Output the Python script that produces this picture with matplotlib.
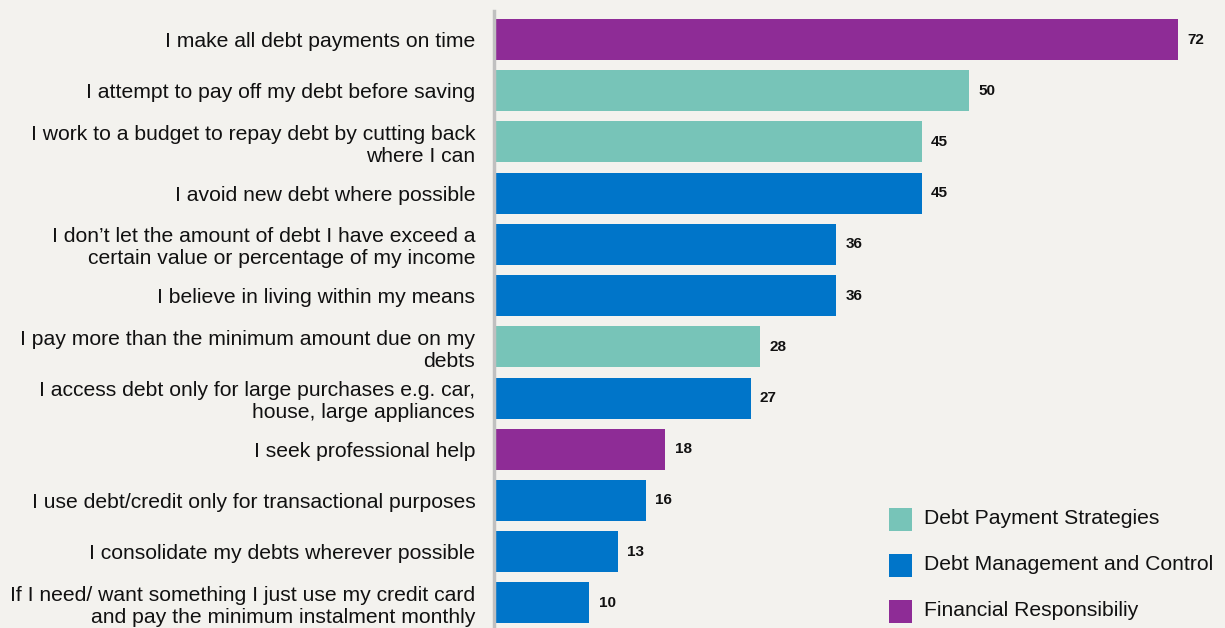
import matplotlib
matplotlib.use("Agg")
import matplotlib.pyplot as plt
from matplotlib.patches import Rectangle

plt.rcParams['font.family'] = ['Liberation Sans', 'DejaVu Sans']

labels = [
    "I make all debt payments on time",
    "I attempt to pay off my debt before saving",
    "I work to a budget to repay debt by cutting back\nwhere I can",
    "I avoid new debt where possible",
    "I don\u2019t let the amount of debt I have exceed a\ncertain value or percentage of my income",
    "I believe in living within my means",
    "I pay more than the minimum amount due on my\ndebts",
    "I access debt only for large purchases e.g. car,\nhouse, large appliances",
    "I seek professional help",
    "I use debt/credit only for transactional purposes",
    "I consolidate my debts wherever possible",
    "If I need/ want something I just use my credit card\nand pay the minimum instalment monthly",
]
values = [72, 50, 45, 45, 36, 36, 28, 27, 18, 16, 13, 10]
groups = ["fin", "pay", "pay", "mgmt", "mgmt", "mgmt", "pay", "mgmt", "fin", "mgmt", "mgmt", "mgmt"]

group_order = ["pay", "mgmt", "fin"]
group_names = {
    "pay": "Debt Payment Strategies",
    "mgmt": "Debt Management and Control",
    "fin": "Financial Responsibiliy",
}
group_colors = {"pay": "#77c4b8", "mgmt": "#0075c9", "fin": "#8e2c96"}
bg = "#f3f2ee"
W, H = 1225, 628

fig = plt.figure(figsize=(W / 100, H / 100), dpi=100, facecolor=bg)
ax = fig.add_axes([494 / W, 0, 1 - 494 / W, 1 - 11 / H])
ax.set_facecolor(bg)

ypos = list(range(len(values)))
ax.barh(ypos, values, height=0.8, color=[group_colors[g] for g in groups])
for y, v in zip(ypos, values):
    ax.text(v + 1.0, y, str(v), va="center", ha="left", fontsize=11,
            fontweight="bold", color="#111111")

ax.set_xlim(0, (W - 494) / 9.5)
ax.set_ylim(11.49, -0.557)
ax.set_xticks([])
ax.set_yticks(ypos)
ax.set_yticklabels(labels, fontsize=15.2, color="#111111", linespacing=1.2)
ax.tick_params(axis="y", length=0, pad=13.5)
for s in ["top", "right", "bottom"]:
    ax.spines[s].set_visible(False)
ax.spines["left"].set_color("#c0c0c0")
ax.spines["left"].set_linewidth(2.5)

# category key, bottom right
for i, key in enumerate(group_order):
    cy = 519 + 46 * i
    fig.patches.append(Rectangle((889 / W, 1 - (cy + 11.5) / H), 23 / W, 23 / H,
                                 transform=fig.transFigure, facecolor=group_colors[key],
                                 edgecolor="none"))
    fig.text(924 / W, 1 - cy / H, group_names[key], va="center", ha="left",
             fontsize=15.2, color="#111111")

fig.savefig("out.png", dpi=100, facecolor=bg)
